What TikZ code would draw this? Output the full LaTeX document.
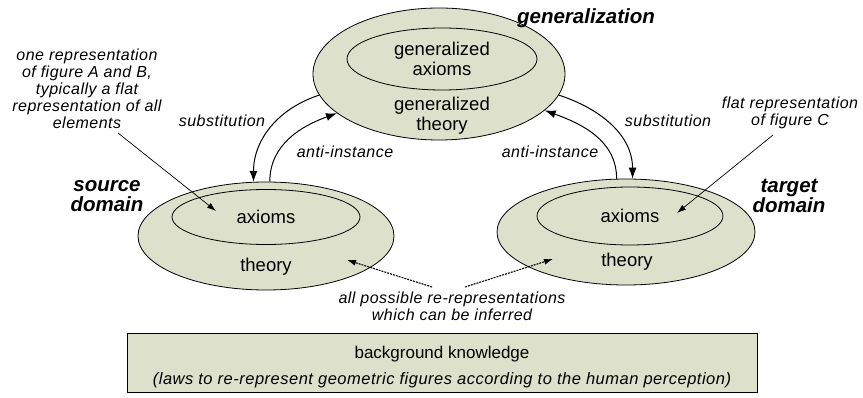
\documentclass[tikz,border=0pt]{standalone}
\usepackage{fontspec}
\setmainfont{Liberation Sans}
\newfontfamily\loosefont[LetterSpace=3]{Liberation Sans}
\usetikzlibrary{shapes.geometric,arrows.meta}
\definecolor{domfill}{RGB}{221,224,202}
\begin{document}
\begin{tikzpicture}[x=1pt,y=-1pt,
  outer/.style={draw,line width=0.8pt,ellipse,fill=domfill,inner sep=0pt},
  inner/.style={draw,line width=0.8pt,ellipse,inner sep=0pt,align=center,font=\fontsize{18.5}{20}\selectfont},
  txt/.style={align=center,font=\fontsize{18.5}{20}\selectfont},
  lbl/.style={font=\fontsize{16}{17}\selectfont\loosefont\itshape},
  note/.style={align=center,font=\fontsize{16}{17}\selectfont\loosefont\itshape},
  dom/.style={align=center,font=\fontsize{20.5}{20}\selectfont\bfseries\itshape},
  flow/.style={draw,line width=1pt,-{Latex[length=11pt,width=8pt]}},
  ptr/.style={draw,line width=0.7pt,-{Latex[length=9pt,width=6pt]}},
  ptrd/.style={ptr,line width=1.1pt,dash pattern=on 2pt off 1pt}]
\useasboundingbox (0,0) rectangle (863,398);
% generalization
\node[outer,minimum width=252,minimum height=132] (gen) at (439,74) {};
\node[inner,minimum width=190,minimum height=62] (gax) at (442,59) {generalized\\axioms};
\node[txt] (gth) at (442,116) {generalized\\theory};
\node[dom] (genl) at (586,18) {generalization};
% source
\node[outer,minimum width=256,minimum height=108] (src) at (266,236) {};
\node[inner,minimum width=188,minimum height=55] (sax) at (266,217) {axioms};
\node[txt] (sth) at (266,267) {theory};
\node[dom] (srcl) at (107,196) {source\\domain};
% target
\node[outer,minimum width=258,minimum height=106] (tgt) at (626,232) {};
\node[inner,minimum width=186,minimum height=58] (tax) at (630,216) {axioms};
\node[txt] (tth) at (627,262) {theory};
\node[dom] (tgtl) at (789,196) {target\\domain};
% mappings
\path[flow] (gen.190) to[out=198,in=90] (src.103);
\path[flow] (src.86) to[out=90,in=200] (gen.201);
\path[flow] (gen.350) to[out=-18,in=90] (tgt.83);
\path[flow] (tgt.100) to[out=90,in=-20] (gen.341);
\node[lbl] (subl) at (222,121) {substitution};
\node[lbl] (antil) at (345,152) {anti-instance};
\node[lbl] (antir) at (550,152) {anti-instance};
\node[lbl] (subr) at (668,121) {substitution};
% notes
\node[note] (lnote) at (87,89) {one representation\\of figure A and B,\\typically a flat\\representation of all\\elements};
\node[note] (rnote) at (790,113) {flat representation\\of figure C};
\node[note] (bnote) at (452,306) {all possible re-representations\\which can be inferred};
\coordinate (lfoot) at (118,133);
\coordinate (ltip) at (216,211);
\coordinate (rfoot) at (773,135);
\coordinate (rtip) at (677,213);
\coordinate (bl) at (432,287);
\coordinate (bltip) at (347,260);
\coordinate (br) at (465,287);
\coordinate (brtip) at (553,259);
\path[ptr] (lfoot) -- (ltip);
\path[ptr] (rfoot) -- (rtip);
\path[ptrd] (bl) -- (bltip);
\path[ptrd] (br) -- (brtip);
% background
\node[draw,line width=0.8pt,fill=domfill,minimum width=630,minimum height=59] (bg) at (442,362.5) {};
\node[font=\fontsize{17}{18}\selectfont] (bgt) at (442,354) {background knowledge};
\node[font=\fontsize{16.5}{17}\selectfont\loosefont\itshape] (bgs) at (442,380) {(laws to re-represent geometric figures according to the human perception)};
\end{tikzpicture}
\end{document}
